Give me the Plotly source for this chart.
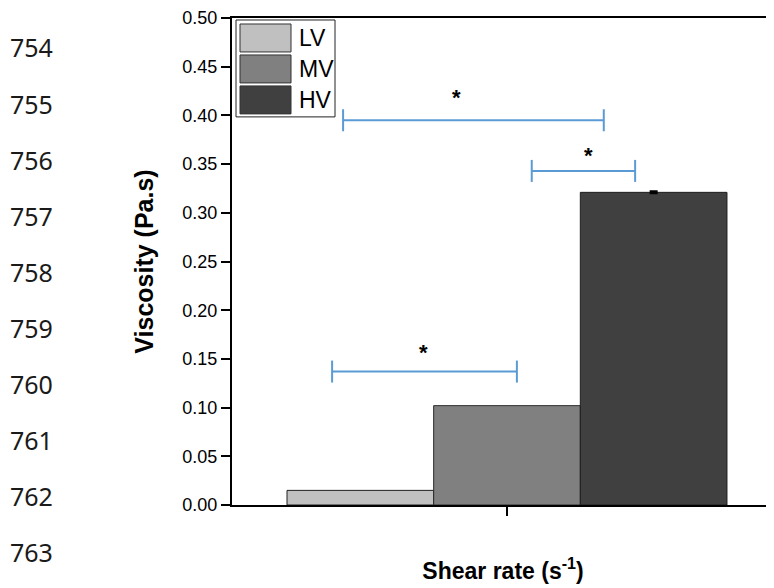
import plotly.graph_objects as go

# ---- data ----
category = ["Shear rate"]
series_names = ["LV", "MV", "HV"]
viscosity = [0.015, 0.102, 0.321]
viscosity_err = [0.0, 0.0, 0.001]
y_ticks = [0.00, 0.05, 0.10, 0.15, 0.20, 0.25, 0.30, 0.35, 0.40, 0.45, 0.50]

# significance brackets (x in category units around the group centre, y in Pa.s)
sig_x0 = [-0.298, 0.045, -0.318]
sig_x1 = [0.176, 0.233, 0.018]
sig_y = [0.395, 0.343, 0.137]
star_x = [-0.091, 0.149, -0.151]
star_y = [0.421, 0.3615, 0.1595]

line_numbers = [754, 755, 756, 757, 758, 759, 760, 761, 762, 763]

# ---- styles ----
fills = ["#C0C0C0", "#808080", "#404040"]
outlines = ["#1e1e1e", "#2a2a2a", "#1e1e1e"]
blue = "#5B9BD5"
FONT = "Liberation Sans, Arial, sans-serif"

OFF = 8  # page body margin
W, H = 774 - OFF, 588 - OFF
L, R, T = 232 - OFF, 0, 18 - OFF
B = H - (505.5 - OFF)
PW, PH = W - L - R, H - T - B


def px_x(px):  # page pixel -> paper x
    return (px - OFF - L) / PW


def px_y(py):  # page pixel -> paper y
    return (H - B - (py - OFF)) / PH


fig = go.Figure()
for name, val, err, fc, lc in zip(series_names, viscosity, viscosity_err, fills, outlines):
    kw = {}
    if err > 0:
        kw["error_y"] = dict(type="data", array=[err], visible=True,
                             color="#000000", thickness=2, width=4)
    fig.add_trace(go.Bar(
        x=category, y=[val], name=name, showlegend=False,
        marker=dict(color=fc, line=dict(color=lc, width=1)), **kw))

shapes = []
annotations = []
cap = 0.0113
for x0, x1, yv in zip(sig_x0, sig_x1, sig_y):
    line = dict(color=blue, width=2)
    shapes.append(dict(type="line", xref="x", yref="y", x0=x0, x1=x1, y0=yv, y1=yv, line=line))
    shapes.append(dict(type="line", xref="x", yref="y", x0=x0, x1=x0, y0=yv - cap, y1=yv + cap, line=line))
    shapes.append(dict(type="line", xref="x", yref="y", x0=x1, x1=x1, y0=yv - cap, y1=yv + cap, line=line))
for sx, sy in zip(star_x, star_y):
    annotations.append(dict(x=sx, y=sy, xref="x", yref="y", text="<b>*</b>",
                            showarrow=False, xanchor="center", yanchor="middle",
                            yshift=-3, font=dict(family=FONT, size=22, color="#000000")))

# custom legend with large swatches
shapes.append(dict(type="rect", xref="paper", yref="paper",
                   x0=px_x(236), x1=px_x(335), y0=px_y(117), y1=px_y(20),
                   line=dict(color="#222222", width=1), fillcolor="#FFFFFF", layer="above"))
sw_top = [24, 55, 86]
for name, fc, top in zip(series_names, fills, sw_top):
    shapes.append(dict(type="rect", xref="paper", yref="paper",
                       x0=px_x(240), x1=px_x(291), y0=px_y(top + 28), y1=px_y(top),
                       line=dict(color="#333333", width=1), fillcolor=fc, layer="above"))
    annotations.append(dict(x=px_x(297), y=px_y(top + 14), xref="paper", yref="paper",
                            text=name, showarrow=False, xanchor="left", yanchor="middle",
                            font=dict(family=FONT, size=23, color="#000000")))

# manuscript line numbers on the left margin
for i, n in enumerate(line_numbers):
    cy = 47.5 + 56.17 * i
    annotations.append(dict(x=px_x(8), y=px_y(cy), xref="paper", yref="paper",
                            text=str(n), showarrow=False, xanchor="left", yanchor="middle",
                            font=dict(family="Noto Sans, sans-serif", size=25, color="#1a1a1a")))

fig.update_layout(
    width=W, height=H,
    margin=dict(l=L, r=R, t=T, b=B, autoexpand=False),
    paper_bgcolor="#FFFFFF", plot_bgcolor="#FFFFFF",
    barmode="group", bargap=0.2, bargroupgap=0,
    showlegend=False,
    shapes=shapes, annotations=annotations,
    font=dict(family=FONT, color="#000000"),
)
fig.update_xaxes(
    range=[-0.5, 0.4855], showgrid=False, zeroline=False,
    showline=True, linecolor="#000000", linewidth=2, mirror=True,
    ticks="outside", ticklen=9, tickwidth=2, tickcolor="#000000",
    showticklabels=False,
    title=dict(text="<b>Shear rate (s<sup>-1</sup>)</b>", standoff=48,
               font=dict(family=FONT, size=23, color="#000000")),
)
fig.update_yaxes(
    range=[0, 0.5], showgrid=False, zeroline=False,
    showline=True, linecolor="#000000", linewidth=2,
    ticks="outside", ticklen=9, tickwidth=2, tickcolor="#000000",
    tickvals=y_ticks, ticktext=[f"{v:.2f}" for v in y_ticks],
    tickfont=dict(family=FONT, size=18, color="#000000"),
    title=dict(text="<b>Viscosity (Pa.s)</b>", standoff=22,
               font=dict(family=FONT, size=25, color="#000000")),
)

fig.write_html("out.html")
